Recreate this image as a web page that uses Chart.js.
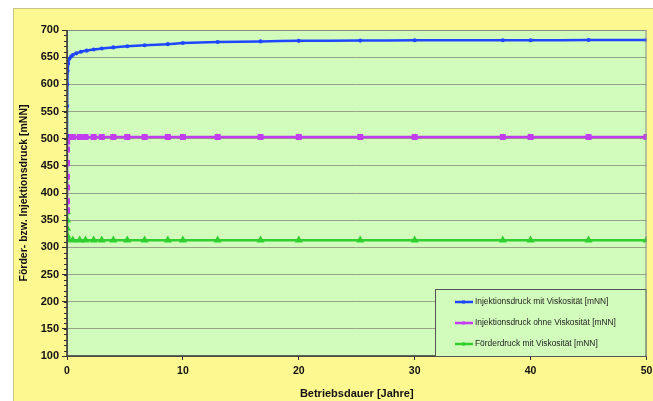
<!DOCTYPE html>
<html lang="de">
<head>
<meta charset="UTF-8">
<title>Förder- bzw. Injektionsdruck</title>
<style>
    body {
        margin: 0;
        padding: 0;
        background: #ffffff;
        font-family: "Liberation Sans", Arial, sans-serif;
    }
    #frame {
        position: absolute;
        left: 13px;
        top: 8px;
        width: 640px;
        height: 393px;
        background: #fdf88f;
        border-left: 1px solid #c9c48a;
        border-top: 1px solid #c9c48a;
        box-sizing: border-box;
    }
    #chart {
        position: absolute;
        left: 0;
        top: 0;
    }
</style>
<script src="https://cdn.jsdelivr.net/npm/chart.js"></script>
</head>
<body>
<div id="frame">
    <canvas id="chart" width="639" height="392"></canvas>
</div>
<script>
// Werte
const xTicks = [0, 10, 20, 30, 40, 50];
const yTicks = [100, 150, 200, 250, 300, 350, 400, 450, 500, 550, 600, 650, 700];

const blueX = [0, 0.01, 0.03, 0.06, 0.1, 0.2, 0.35, 0.5, 0.8, 1.2, 1.7, 2.3, 3, 4, 5.2, 6.7, 8.7, 10, 13, 16.7, 20, 25.3, 30, 37.6, 40, 45, 50];
const blueY = [505, 560, 600, 625, 638, 647, 651, 654, 657, 660, 662, 664, 666, 668, 670, 672, 674, 676, 678, 679, 680, 680.5, 681, 681, 681, 681.5, 681.5];

const magentaX = [0, 0, 0, 0, 0, 0, 0.01, 0.03, 0.1, 0.5, 1.1, 1.6, 2.3, 3, 4, 5.2, 6.7, 8.7, 10, 13, 16.7, 20, 25.3, 30, 37.6, 40, 45, 50];
const magentaY = [368, 385, 410, 430, 455, 480, 495, 503, 503, 503, 503, 503, 503, 503, 503, 503, 503, 503, 503, 503, 503, 503, 503, 503, 503, 503, 503, 503];

const greenX = [0, 0, 0, 0.01, 0.03, 0.1, 0.5, 1.1, 1.6, 2.3, 3, 4, 5.2, 6.7, 8.7, 10, 13, 16.7, 20, 25.3, 30, 37.6, 40, 45, 50];
const greenY = [365, 350, 335, 322, 316, 314, 313, 313, 313, 313, 313, 313, 313, 313, 313, 313, 313, 313, 313, 313, 313, 313, 313, 313, 313];

const seriesNames = [
    'Injektionsdruck mit Viskosität [mNN]',
    'Injektionsdruck ohne Viskosität [mNN]',
    'Förderdruck mit Viskosität [mNN]'
];

function toPoints(xs, ys) {
    return xs.map((x, i) => ({ x: x, y: ys[i] }));
}

const BLUE = '#1f47ff';
const MAGENTA = '#c23cf0';
const GREEN = '#2fcf2f';

// Hintergrund der Zeichenfläche + Rahmen
const plotBackground = {
    id: 'plotBackground',
    beforeDraw(chart) {
        const a = chart.chartArea;
        const ctx = chart.ctx;
        ctx.save();
        ctx.fillStyle = '#d2fcbc';
        ctx.fillRect(a.left, a.top, a.right - a.left, a.bottom - a.top);
        ctx.restore();
    },
    afterDatasetsDraw(chart) {
        const a = chart.chartArea;
        const ctx = chart.ctx;
        ctx.save();
        ctx.strokeStyle = '#8a8a8a';
        ctx.lineWidth = 1;
        ctx.strokeRect(a.left + 0.5, a.top + 0.5, a.right - a.left - 1, a.bottom - a.top);
        // Achsenlinien links und unten
        ctx.strokeStyle = '#333333';
        ctx.lineWidth = 1.5;
        ctx.beginPath();
        ctx.moveTo(a.left, a.top);
        ctx.lineTo(a.left, a.bottom);
        ctx.lineTo(a.right, a.bottom);
        ctx.stroke();
        // kleine Teilstriche auf der y-Achse
        const ys = chart.scales.y;
        ctx.lineWidth = 1;
        for (let v = 100; v <= 700; v += 10) {
            const py = Math.round(ys.getPixelForValue(v)) + 0.5;
            ctx.beginPath();
            ctx.moveTo(a.left - 3, py);
            ctx.lineTo(a.left, py);
            ctx.stroke();
        }
        ctx.restore();
    }
};

// Legende unten rechts in der Zeichenfläche
const boxLegend = {
    id: 'boxLegend',
    afterDraw(chart) {
        const a = chart.chartArea;
        const ctx = chart.ctx;
        const left = 421, top = 280;
        const right = a.right, bottom = a.bottom;
        ctx.save();
        ctx.fillStyle = '#d2fcbc';
        ctx.fillRect(left, top, right - left, bottom - top);
        ctx.strokeStyle = '#555555';
        ctx.lineWidth = 1;
        ctx.strokeRect(left + 0.5, top + 0.5, right - left - 1, bottom - top);
        ctx.font = '8.4px "Liberation Sans", Arial, sans-serif';
        ctx.textBaseline = 'middle';
        chart.data.datasets.forEach((ds, i) => {
            const cy = top + 13 + i * 21;
            ctx.strokeStyle = ds.borderColor;
            ctx.lineWidth = 2.5;
            ctx.beginPath();
            ctx.moveTo(left + 20, cy);
            ctx.lineTo(left + 38, cy);
            ctx.stroke();
            ctx.fillStyle = ds.borderColor;
            ctx.fillRect(left + 27, cy - 1.5, 3, 3);
            ctx.fillStyle = '#222222';
            ctx.fillText(ds.label, left + 40, cy);
        });
        ctx.restore();
    }
};

const ctx = document.getElementById('chart').getContext('2d');
new Chart(ctx, {
    type: 'scatter',
    data: {
        datasets: [
            {
                label: seriesNames[0],
                data: toPoints(blueX, blueY),
                showLine: true,
                borderColor: BLUE,
                backgroundColor: BLUE,
                borderWidth: 2.5,
                pointRadius: 0.8,
                pointStyle: 'circle',
                tension: 0.3
            },
            {
                label: seriesNames[1],
                data: toPoints(magentaX, magentaY),
                showLine: true,
                borderColor: MAGENTA,
                backgroundColor: MAGENTA,
                borderWidth: 2.5,
                pointRadius: 2.5,
                pointStyle: 'rect'
            },
            {
                label: seriesNames[2],
                data: toPoints(greenX, greenY),
                showLine: true,
                borderColor: GREEN,
                backgroundColor: GREEN,
                borderWidth: 2.5,
                pointRadius: 2.2,
                pointStyle: 'triangle'
            }
        ]
    },
    options: {
        responsive: false,
        animation: false,
        layout: { padding: { left: 0, top: 21, right: 6, bottom: 0 } },
        plugins: {
            legend: { display: false },
            tooltip: { enabled: false }
        },
        scales: {
            x: {
                type: 'linear',
                min: 0,
                max: 50,
                afterBuildTicks: axis => { axis.ticks = xTicks.map(v => ({ value: v })); },
                grid: {
                    display: true,
                    drawOnChartArea: false,
                    drawTicks: true,
                    tickLength: 4,
                    color: '#333333'
                },
                border: { display: false },
                ticks: {
                    color: '#111111',
                    padding: 5,
                    maxRotation: 0,
                    font: { family: '"Liberation Sans", Arial, sans-serif', size: 10.5, weight: 'bold' }
                },
                title: {
                    display: true,
                    text: 'Betriebsdauer [Jahre]',
                    color: '#111111',
                    padding: { top: 5, bottom: 0 },
                    font: { family: '"Liberation Sans", Arial, sans-serif', size: 11, weight: 'bold' }
                },
                afterFit: scale => {
                    scale.height = 45;
                    scale.paddingLeft = 0;
                    scale.paddingRight = 0;
                }
            },
            y: {
                type: 'linear',
                min: 100,
                max: 700,
                afterBuildTicks: axis => { axis.ticks = yTicks.map(v => ({ value: v })); },
                grid: {
                    color: '#94a38a',
                    lineWidth: 1,
                    drawTicks: true,
                    tickLength: 5,
                    tickColor: '#333333'
                },
                border: { display: false },
                ticks: {
                    color: '#111111',
                    padding: 3,
                    font: { family: '"Liberation Sans", Arial, sans-serif', size: 11, weight: 'bold' }
                },
                title: {
                    display: true,
                    text: 'Förder- bzw. Injektionsdruck [mNN]',
                    color: '#111111',
                    padding: { top: 4, bottom: 2 },
                    font: { family: '"Liberation Sans", Arial, sans-serif', size: 10.5, weight: 'bold' }
                },
                afterFit: scale => {
                    scale.width = 53;
                    scale.paddingTop = 0;
                    scale.paddingBottom = 0;
                }
            }
        }
    },
    plugins: [plotBackground, boxLegend]
});
</script>
</body>
</html>
